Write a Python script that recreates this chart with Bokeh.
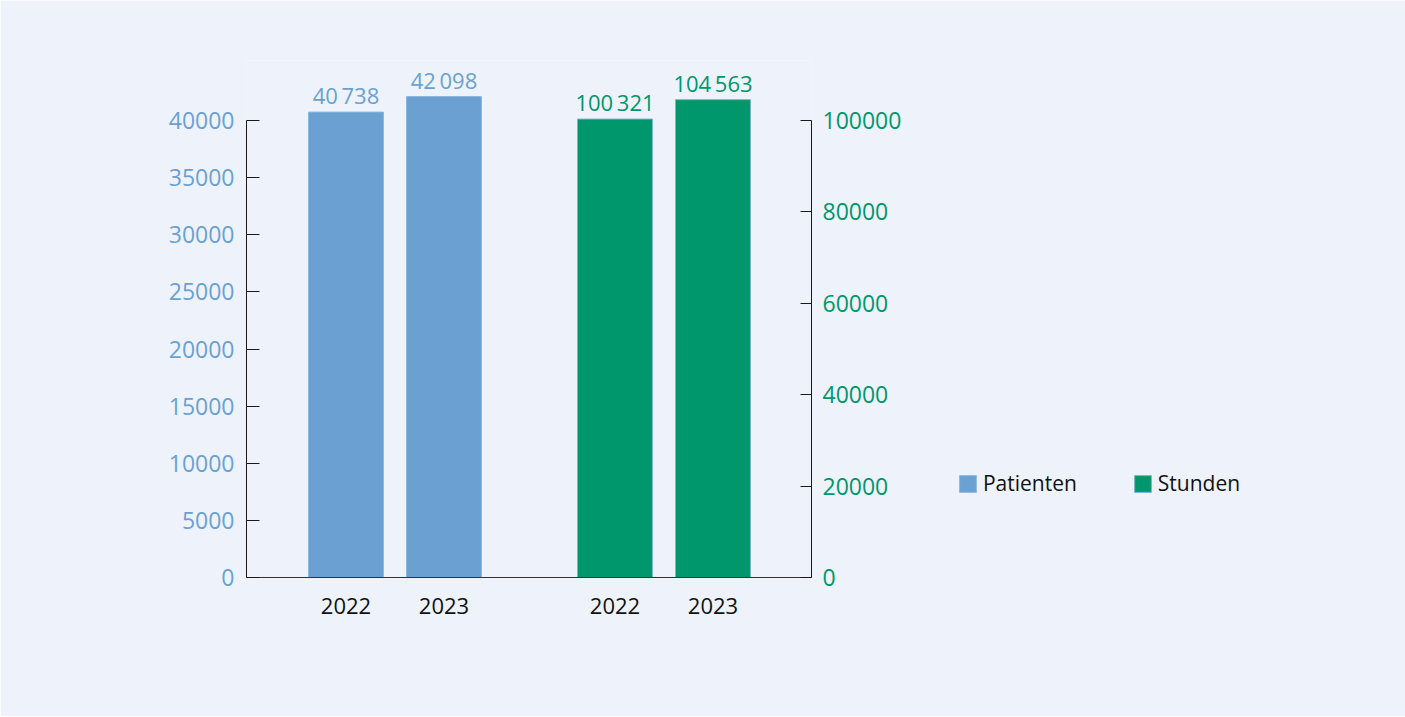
from bokeh.plotting import figure
from bokeh.models import (ColumnDataSource, Range1d, LinearAxis, FixedTicker,
                          SingleIntervalTicker, NumeralTickFormatter, Legend, LegendItem)
from bokeh.core.properties import value
from bokeh.embed import file_html
from bokeh.resources import INLINE

# ---- data ----
years = ["2022", "2023"]
patienten = [40738, 42098]
stunden = [100321, 104563]
patienten_labels = ["40\u2009738", "42\u2009098"]
stunden_labels = ["100\u2009321", "104\u2009563"]
series_names = ["Patienten", "Stunden"]

BLUE = "#6aa1d2"
GREEN = "#00976c"
BG = "#eef3fb"
FONT = "Open Sans"

# ---- layout helpers (slot positions computed from indices) ----
group_gap = 0.745
frame_w, frame_h = 565, 517
px_per_40000 = 457


def slot(g, i):
    return g * (len(years) + group_gap) + i


xs_p = [slot(0, i) for i in range(len(years))]
xs_s = [slot(1, i) for i in range(len(years))]

p = figure(
    x_range=Range1d(-1.015, -1.015 + frame_w / 98.0),
    y_range=Range1d(0, 40000 * frame_h / px_per_40000),
    frame_width=frame_w, frame_height=frame_h,
    min_border_left=246, min_border_right=590, min_border_top=60, min_border_bottom=139,
    output_backend="svg", toolbar_location=None,
    background_fill_color=BG, border_fill_color=BG, outline_line_color=None,
)
p.extra_y_ranges = {"right": Range1d(0, 100000 * frame_h / px_per_40000)}
p.xgrid.visible = False
p.ygrid.visible = False

src_p = ColumnDataSource(dict(x=xs_p, top=patienten, lab=patienten_labels))
src_s = ColumnDataSource(dict(x=xs_s, top=stunden, lab=stunden_labels))

r1 = p.vbar(x="x", top="top", width=0.765, source=src_p, fill_color=BLUE,
            line_color="#8db8de", line_width=1)
r2 = p.vbar(x="x", top="top", width=0.765, source=src_s, fill_color=GREEN,
            line_color="#7fb0d6", line_width=1, y_range_name="right")

p.text(x="x", y="top", text="lab", source=src_p, text_align="center", text_baseline="bottom",
       y_offset=-2, text_color=BLUE, text_font=value(FONT), text_font_size="22px")
p.text(x="x", y="top", text="lab", source=src_s, text_align="center", text_baseline="bottom",
       y_offset=-2, text_color=GREEN, text_font=value(FONT), text_font_size="22px",
       y_range_name="right")

# left axis
ya = p.yaxis[0]
ya.ticker = SingleIntervalTicker(interval=5000)
ya.formatter = NumeralTickFormatter(format="0")
ya.bounds = (0, 40000)
ya.major_tick_in = 13
ya.major_tick_out = 0
ya.minor_tick_line_color = None
ya.axis_line_color = "#1a1a1a"
ya.major_tick_line_color = "#1a1a1a"
ya.major_label_text_color = BLUE
ya.major_label_text_font = FONT
ya.major_label_text_font_size = "23px"
ya.major_label_standoff = 8

# right axis
ra = LinearAxis(y_range_name="right", ticker=SingleIntervalTicker(interval=20000),
                formatter=NumeralTickFormatter(format="0"), bounds=(0, 100000))
ra.major_tick_in = 11
ra.major_tick_out = 0
ra.minor_tick_line_color = None
ra.axis_line_color = "#1a1a1a"
ra.major_tick_line_color = "#1a1a1a"
ra.major_label_text_color = GREEN
ra.major_label_text_font = FONT
ra.major_label_text_font_size = "23px"
ra.major_label_standoff = 7
p.add_layout(ra, "right")

# x axis: years under each bar
xa = p.xaxis[0]
xa.ticker = FixedTicker(ticks=xs_p + xs_s)
xa.major_label_overrides = {x: y for x, y in zip(xs_p + xs_s, years + years)}
xa.major_tick_in = 0
xa.major_tick_out = 0
xa.minor_tick_line_color = None
xa.axis_line_color = "#333333"
xa.major_label_text_color = "#111111"
xa.major_label_text_font = FONT
xa.major_label_text_font_size = "22px"
xa.major_label_standoff = 20

legend = Legend(
    items=[LegendItem(label=series_names[0], renderers=[r1]),
           LegendItem(label=series_names[1], renderers=[r2])],
    orientation="horizontal", location=(-426, 80),
    glyph_width=21, glyph_height=21, label_standoff=5, spacing=55,
    padding=0, margin=0, border_line_color=None, background_fill_alpha=0,
    label_text_font=FONT, label_text_font_size="21px", label_text_color="#111111",
)
p.add_layout(legend, "right")

open("out.html", "w").write(file_html(p, INLINE))
